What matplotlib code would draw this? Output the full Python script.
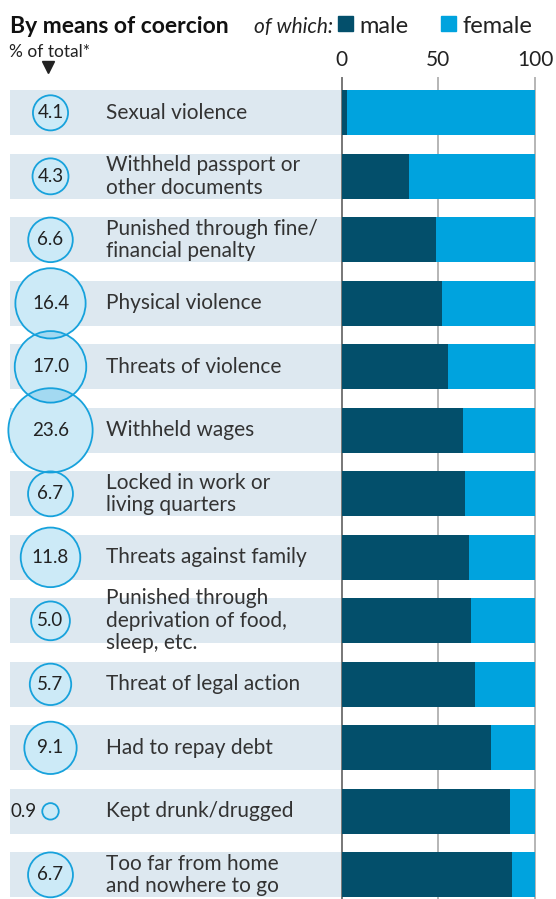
import matplotlib.pyplot as plt
import numpy as np
from matplotlib.patches import Rectangle
from matplotlib.lines import Line2D

plt.rcParams['font.family'] = ['Lato', 'DejaVu Sans']

categories = [
    'Sexual violence',
    'Withheld passport or\nother documents',
    'Punished through fine/\nfinancial penalty',
    'Physical violence',
    'Threats of violence',
    'Withheld wages',
    'Locked in work or\nliving quarters',
    'Threats against family',
    'Punished through\ndeprivation of food,\nsleep, etc.',
    'Threat of legal action',
    'Had to repay debt',
    'Kept drunk/drugged',
    'Too far from home\nand nowhere to go',
]
share_of_total = [4.1, 4.3, 6.6, 16.4, 17.0, 23.6, 6.7, 11.8, 5.0, 5.7, 9.1, 0.9, 6.7]
male_pct = [3, 35, 49, 52, 55, 63, 64, 66, 67, 69, 77, 87, 88]
female_pct = [100 - m for m in male_pct]
pct_ticks = [0, 50, 100]

MALE = '#034f6b'
FEMALE = '#00a3de'
BAND = '#dde8f0'
CIRCLE_EDGE = '#17a2dc'
TEXT = '#222222'

W, H = 556, 899
ROW_TOP = 112.85   # centre of first row, px from top
ROW_STEP = 63.5    # px between rows
BAR_H = 45 / ROW_STEP
X0, X100 = 341.7, 535.0
GRID_TOP = 78


def fx(px):
    return px / W


def fy(py):
    return 1 - py / H


def row_units(py):
    return (py - ROW_TOP) / ROW_STEP


rows = np.arange(len(categories))
bubble_size = np.array(share_of_total) * 156

fig = plt.figure(figsize=(W / 100, H / 100), dpi=100)

# left panel: bands, bubbles and labels
ax_l = fig.add_axes([0, 0, fx(X0), 1])
ax_l.set_xlim(0, X0)
ax_l.set_ylim(row_units(H), row_units(0))
ax_l.axis('off')
ax_l.barh(rows, X0 - 10, left=10, height=BAR_H, color=BAND, zorder=1)
# white underlay so the band does not show through the bubbles
ax_l.scatter(np.full(len(rows), 50.5), rows, s=bubble_size, facecolor='white',
             edgecolor='none', zorder=2, clip_on=False)
ax_l.scatter(np.full(len(rows), 50.5), rows, s=bubble_size,
             facecolor=(0.0, 0.59, 0.86, 0.2), edgecolor=CIRCLE_EDGE,
             linewidth=1.3, zorder=3, clip_on=False)
for r, v, name in zip(rows, share_of_total, categories):
    if v < 2:
        ax_l.text(37, r, f'{v:.1f}', ha='right', va='center', fontsize=13.5,
                  color=TEXT, zorder=4)
    else:
        ax_l.text(50.5, r, f'{v:.1f}', ha='center', va='center', fontsize=13.5,
                  color=TEXT, zorder=4)
    ax_l.text(106, r, name, ha='left', va='center', fontsize=15,
              color='#333333', linespacing=1.15, zorder=4)

# right panel: male/female split
ax_b = fig.add_axes([fx(X0), 0, fx(X100) - fx(X0), fy(GRID_TOP)])
ax_b.set_xlim(0, 100)
ax_b.set_ylim(row_units(H), row_units(GRID_TOP))
ax_b.barh(rows, male_pct, height=BAR_H, color=MALE, zorder=2)
ax_b.barh(rows, female_pct, left=male_pct, height=BAR_H, color=FEMALE, zorder=2)
for t in pct_ticks:
    ax_b.axvline(t, color='#777777' if t == 0 else '#b5b5b5', lw=1.4,
                 zorder=1, clip_on=False)
for s in ax_b.spines.values():
    s.set_visible(False)
ax_b.set_yticks([])
ax_b.xaxis.tick_top()
ax_b.set_xticks(pct_ticks)
ax_b.set_xticklabels([str(t) for t in pct_ticks])
ax_b.tick_params(axis='x', length=0, pad=6, labelsize=15, labelcolor=TEXT)

# header
fig.text(fx(10), fy(32.6), 'By means of coercion', fontsize=16.5,
         fontweight='bold', color='#111111', va='baseline')
fig.text(fx(254), fy(32.6), 'of which:', fontsize=15, style='italic',
         color=TEXT, va='baseline')
for x0, lab, col in [(338, 'male', MALE), (441, 'female', FEMALE)]:
    fig.add_artist(Rectangle((fx(x0), fy(31)), 15 / W, 15 / H,
                             transform=fig.transFigure, color=col))
    fig.text(fx(x0 + 21), fy(32.6), lab, fontsize=17, color=TEXT,
             va='baseline')
fig.text(fx(9), fy(57), '% of total*', fontsize=12.5, color=TEXT, va='baseline')
fig.add_artist(Line2D([fx(48)], [fy(67)], marker='v', markersize=8,
                      color=TEXT, transform=fig.transFigure))

fig.savefig('out.png', dpi=100)
